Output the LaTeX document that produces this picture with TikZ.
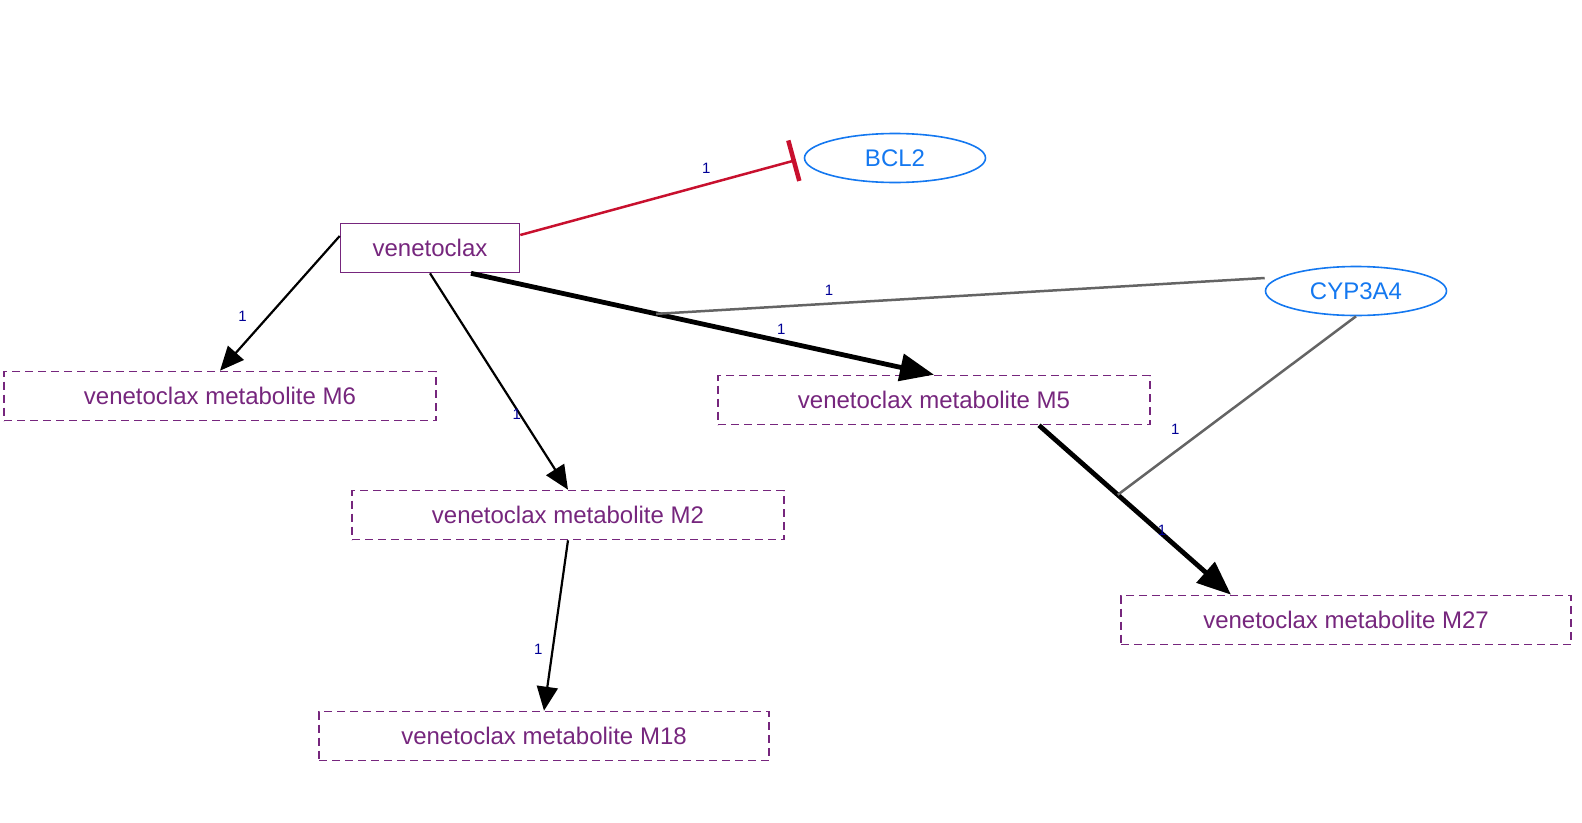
\documentclass[tikz,border=0pt]{standalone}
\usepackage{fontspec}
\setmainfont{Liberation Sans}
\usetikzlibrary{arrows.meta,positioning,calc,shapes.geometric}
\definecolor{drugpurple}{RGB}{118,38,125}
\definecolor{geneblue}{RGB}{20,120,240}
\definecolor{inhred}{RGB}{200,16,46}
\definecolor{catgray}{RGB}{100,100,100}
\definecolor{lblnavy}{RGB}{0,0,150}

\begin{document}
\begin{tikzpicture}[x=1pt, y=-1pt,
    drug/.style={rectangle, draw=drugpurple, line width=1.6pt, text=drugpurple,
                 minimum width=179pt, minimum height=49pt, font=\fontsize{24}{28}\selectfont},
    meta/.style={drug, dash pattern=on 8pt off 5pt, minimum width=432pt},
    gene/.style={ellipse, draw=geneblue, line width=1.6pt, text=geneblue,
                 minimum width=181pt, minimum height=49pt, font=\fontsize{24}{28}\selectfont},
    lbl/.style={text=lblnavy, font=\fontsize{15}{17}\selectfont, inner sep=1pt},
    conv/.style={-{Triangle[length=24pt,width=21pt]}, line width=2.2pt},
    major/.style={-{Triangle[length=34pt,width=27pt]}, line width=4.8pt},
    inhib/.style={-{Bar[width=42pt,line width=4.5pt]}, draw=inhred, line width=2.5pt, shorten >=8pt},
    cat/.style={draw=catgray, line width=2.5pt}
]
\useasboundingbox (0,0) rectangle (1582,822);
\node[drug] (ven) at (430,248) {venetoclax};
\node[gene] (bcl) at (895,158) {BCL2};
\node[gene] (cyp) at (1356,291) {CYP3A4};
\node[meta] (m6) at (220,396) {venetoclax metabolite M6};
\node[meta] (m5) at (934,400) {venetoclax metabolite M5};
\node[meta] (m2) at (568,515) {venetoclax metabolite M2};
\node[meta, minimum width=450pt] (m27) at (1346,620) {venetoclax metabolite M27};
\node[meta, minimum width=450pt] (m18) at (544,736) {venetoclax metabolite M18};
\draw[inhib] ([yshift=13pt]ven.east) -- (bcl.west) node[lbl, pos=0.656, above=9pt] {1};
\draw[conv] ([yshift=12pt]ven.west) -- (m6.north) node[lbl, pos=0.6, left=19pt] {1};
\draw[conv] (ven.south) -- (m2.north) node[lbl, pos=0.65, xshift=-3pt] {1};
\draw[major] ([xshift=41pt]ven.south) -- coordinate[pos=0.4] (j1) (m5.north) node[lbl, pos=0.67, above=3pt] {1};
\draw[major] ([xshift=105pt]m5.south) -- coordinate[pos=0.41] (j2) ([xshift=-115pt]m27.north) node[lbl, pos=0.62, xshift=4pt] {1};
\draw[conv] (m2.south) -- (m18.north) node[lbl, pos=0.64, left=8pt] {1};
\draw[cat] ([yshift=13pt]cyp.west) -- (j1) node[lbl, pos=0.716, above=6pt] {1};
\draw[cat] (cyp.south) -- (j2) node[lbl, pos=0.635, left=23pt] {1};
\end{tikzpicture}
\end{document}
